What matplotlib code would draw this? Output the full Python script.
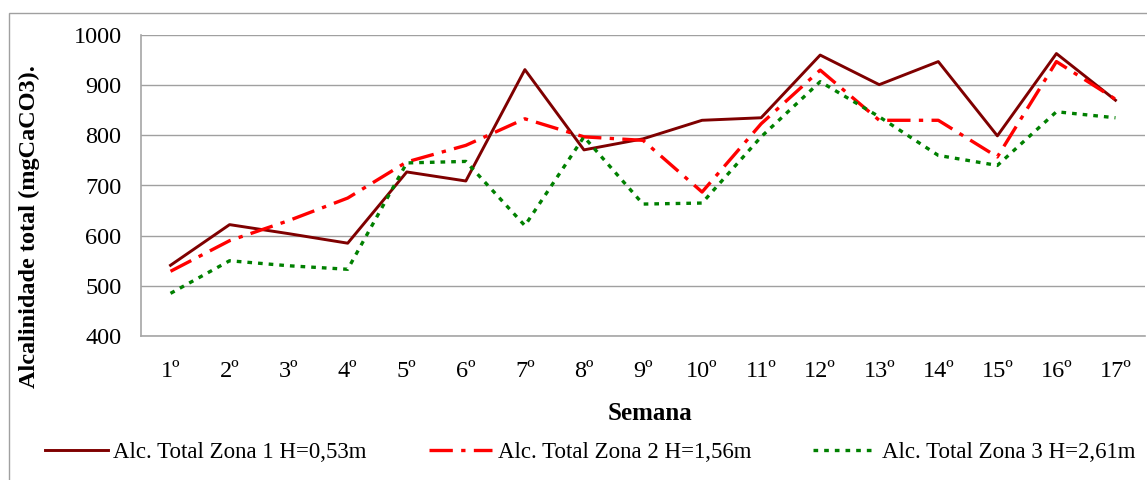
import matplotlib
matplotlib.use("Agg")
import matplotlib.pyplot as plt
from matplotlib.patches import Rectangle

# weekly total alkalinity (mgCaCO3) per zone
semanas = ["1º", "2º", "3º", "4º", "5º", "6º", "7º", "8º", "9º", "10º",
           "11º", "12º", "13º", "14º", "15º", "16º", "17º"]
zona1 = [541, 622, 604, 585, 727, 709, 931, 771, 793, 830,
         835, 960, 901, 947, 799, 963, 870]
zona2 = [529, 590, 630, 675, 747, 780, 833, 797, 790, 687,
         823, 930, 830, 830, 757, 947, 872]
zona3 = [485, 550, 540, 533, 745, 748, 620, 797, 663, 665,
         797, 907, 837, 760, 740, 847, 835]
nomes = ["Alc. Total Zona 1 H=0,53m", "Alc. Total Zona 2 H=1,56m",
         "Alc. Total Zona 3 H=2,61m"]

plt.rcParams['font.family'] = ['Liberation Serif', 'DejaVu Serif']

W, H = 1147, 480
fig = plt.figure(figsize=(W / 100, H / 100), dpi=100)
ax = fig.add_axes([141 / W, 1 - 336 / H, 1004 / W, 301 / H])

x = range(len(semanas))
ax.plot(x, zona1, color='#7f0000', lw=2.1, label=nomes[0])
ax.plot(x, zona2, color='#ff0000', lw=2.4, dashes=(7, 2.5, 1.3, 2.5), label=nomes[1])
ax.plot(x, zona3, color='#008000', lw=2.4, dashes=(1.4, 1.8), label=nomes[2])

ax.set_xlim(-0.5, len(semanas) - 0.5)
ax.set_ylim(400, 1000)
ax.set_yticks(range(400, 1001, 100))
ax.set_xticks(list(x))
ax.set_xticklabels(semanas)
ax.tick_params(axis='y', length=0, pad=14, labelsize=17.5)
ax.tick_params(axis='x', length=0, pad=18, labelsize=17.5)
ax.grid(axis='y', color='#a0a0a0', lw=1)
ax.set_axisbelow(True)
for s in ['top', 'right']:
    ax.spines[s].set_visible(False)
for s in ['left', 'bottom']:
    ax.spines[s].set_color('#a6a6a6')
    ax.spines[s].set_linewidth(1.2)

fig.text(29 / W, 1 - 227 / H, "Alcalinidade total (mgCaCO3).", rotation=90,
         ha='center', va='center', fontsize=17.5, fontweight='bold')
fig.text(650 / W, 1 - 413 / H, "Semana", ha='center', va='center',
         fontsize=18, fontweight='bold')

fig.legend(loc='center', bbox_to_anchor=(590 / W, 1 - 452 / H), ncol=3,
           frameon=False, fontsize=16.5, handlelength=2.75, columnspacing=2.7,
           handletextpad=0.25)

fig.patches.append(Rectangle((9 / W, -0.1), 1.2, 1.1 - 13 / H,
                             transform=fig.transFigure, fill=False,
                             edgecolor='#a0a0a0', lw=1))

fig.savefig("out.png", dpi=100)
